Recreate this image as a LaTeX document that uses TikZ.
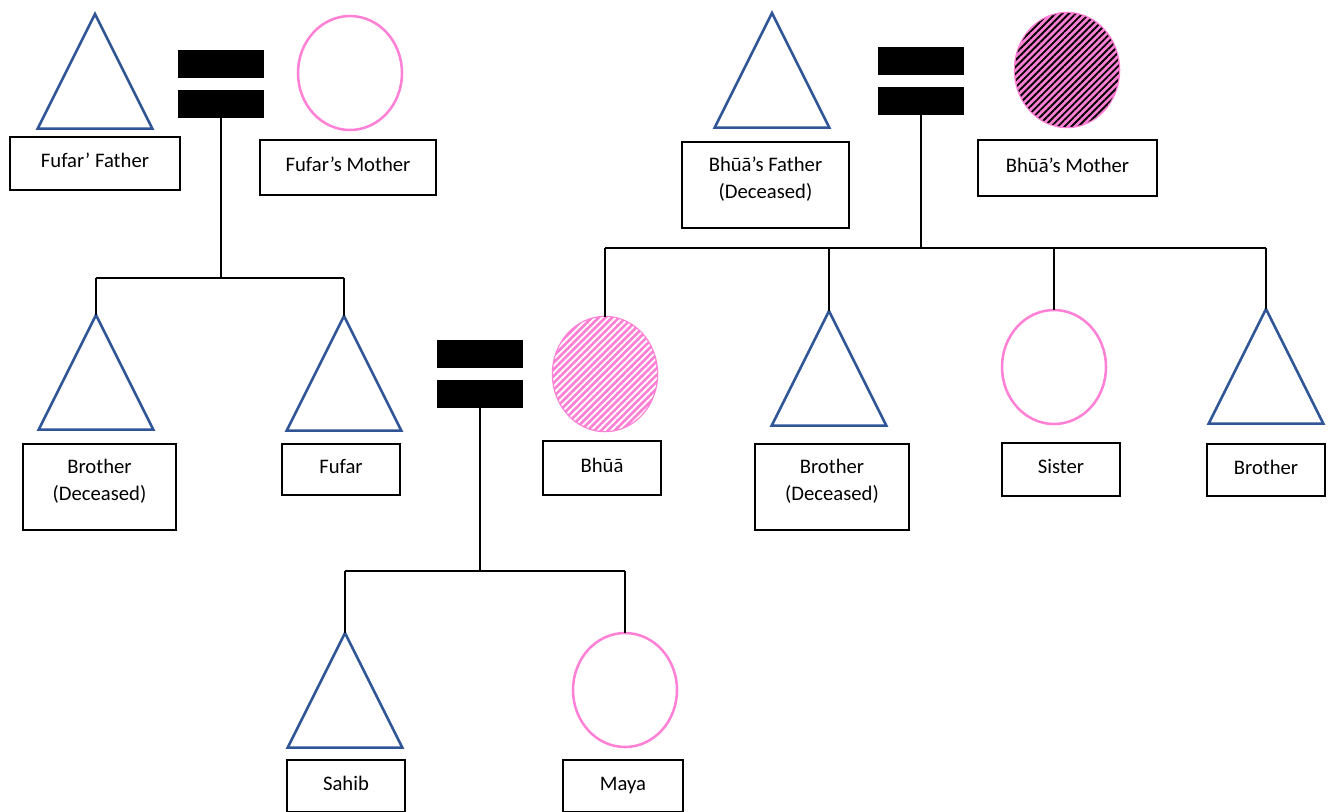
\documentclass[tikz,border=0pt]{standalone}
\usepackage{fontspec}
\setmainfont{Carlito}
\usetikzlibrary{shapes.geometric,patterns.meta,positioning}
\definecolor{kinblue}{RGB}{47,85,151}
\definecolor{kinpink}{RGB}{255,128,213}

\tikzset{
  male/.style={isosceles triangle, isosceles triangle stretches, shape border rotate=90,
    draw=kinblue, line width=1.9pt, minimum width=86pt, minimum height=86pt,
    inner sep=0pt, outer sep=0pt, anchor=apex},
  female/.style={ellipse, draw=kinpink, line width=1.9pt, minimum width=78pt,
    minimum height=85.5pt, inner sep=0pt, outer sep=0pt},
  hatch/.style={fill=kinpink, postaction={pattern={Lines[angle=45,distance=3.6pt,line width=1.4pt]}, pattern color=#1}},
  bar/.style={fill=black, minimum width=65pt, minimum height=21pt, inner sep=0pt, outer sep=0pt},
  tag/.style 2 args={draw, line width=0.8pt, align=center, inner sep=0pt,
    minimum width=#1*0.75pt, minimum height=#2*0.75pt,
    text height=11pt, text depth=5pt,
    font=\fontsize{15.5}{20}\selectfont},
  twoline/.style={text height=31pt, text depth=11pt},
  link/.style={line width=1pt}
}

\begin{document}
\begin{tikzpicture}[x=0.75pt, y=-0.75pt]

    \useasboundingbox (0,0) rectangle (1337,811);

    % Fufar's parents
    \node [male] (ffather) at (95,14) {};
    \node [tag={170}{53}] (ffather-lab) at (95,163.5) {Fufar’ Father};
    \node [bar] (wed1-top) at (221,64) {};
    \node [bar] (wed1-bot) at (221,104) {};
    \node [female] (fmother) at (350,73) {};
    \node [tag={176}{55}] (fmother-lab) at (348,167.5) {Fufar’s Mother};

    % their children
    \node [male] (brother1) at (96,315) {};
    \node [tag={153}{86}, twoline] (brother1-lab) at (99.5,487) {Brother\\(Deceased)};
    \node [male] (fufar) at (344,316) {};
    \node [tag={118}{51}] (fufar-lab) at (341,469.5) {Fufar};

    % Fufar and Bhua
    \node [bar] (wed2-top) at (480,354) {};
    \node [bar] (wed2-bot) at (480,394) {};
    \node [female, hatch=white] (bhua) at (605,374) {};
    \node [tag={118}{54}] (bhua-lab) at (602,468) {Bhūā};

    % their children
    \node [male] (sahib) at (345,633) {};
    \node [tag={118}{52}] (sahib-lab) at (346,786) {Sahib};
    \node [female] (maya) at (625,690) {};
    \node [tag={120}{52}] (maya-lab) at (623,786) {Maya};

    % Bhua's parents
    \node [male] (bfather) at (772,13) {};
    \node [tag={167}{86}, twoline] (bfather-lab) at (765.5,185) {Bhūā’s Father\\(Deceased)};
    \node [bar] (wed3-top) at (921,61) {};
    \node [bar] (wed3-bot) at (921,101) {};
    \node [female, hatch=black] (bmother) at (1067,70) {};
    \node [tag={179}{56}] (bmother-lab) at (1067.5,168) {Bhūā’s Mother};

    % Bhua's siblings
    \node [male] (brother2) at (829,311) {};
    \node [tag={154}{86}, twoline] (brother2-lab) at (832,487) {Brother\\(Deceased)};
    \node [female] (sister) at (1054,367) {};
    \node [tag={118}{53}] (sister-lab) at (1061,469.5) {Sister};
    \node [male] (brother3) at (1266,309) {};
    \node [tag={118}{52}] (brother3-lab) at (1266,470) {Brother};

    % forks
    \coordinate (fork1) at (221,278);
    \coordinate (fork2) at (480,571);
    \coordinate (fork3) at (921,248);

    % lines from couples to children
    \draw [link] (wed1-bot.south) -- (fork1);
    \draw [link] (brother1.apex |- fork1) -- (fufar.apex |- fork1);
    \foreach \k in {brother1.apex, fufar.apex}
        \draw [link] (\k) -- (\k |- fork1);

    \draw [link] (wed2-bot.south) -- (fork2);
    \draw [link] (sahib.apex |- fork2) -- (maya.north |- fork2);
    \foreach \k in {sahib.apex, maya.north}
        \draw [link] (\k) -- (\k |- fork2);

    \draw [link] (wed3-bot.south) -- (fork3);
    \draw [link] (bhua.north |- fork3) -- (brother3.apex |- fork3);
    \foreach \k in {bhua.north, brother2.apex, sister.north, brother3.apex}
        \draw [link] (\k) -- (\k |- fork3);

\end{tikzpicture}
\end{document}
